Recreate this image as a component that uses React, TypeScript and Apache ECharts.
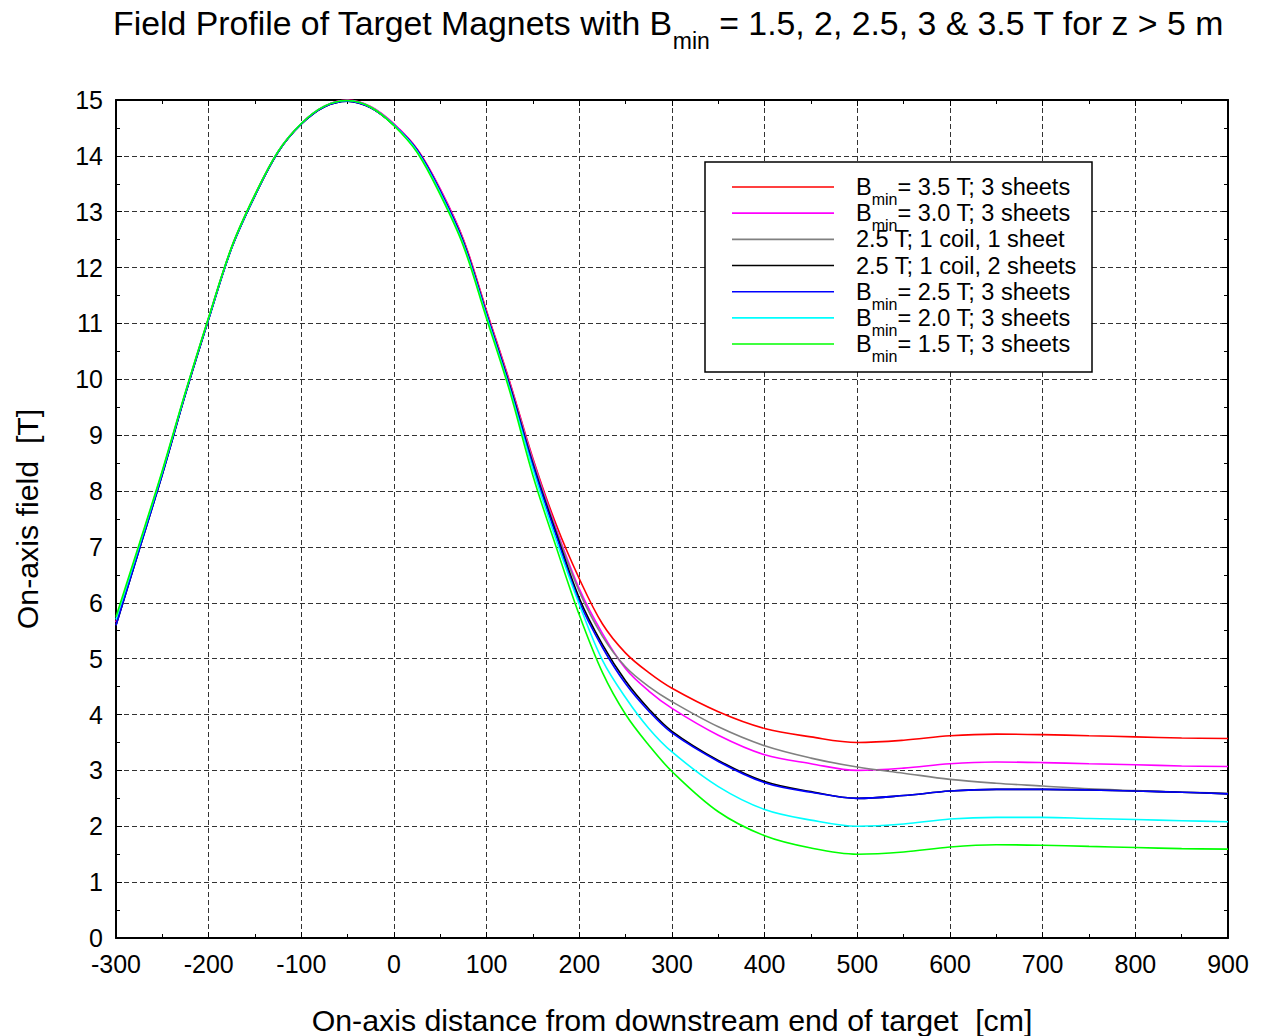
import React, { useEffect, useRef } from 'react';
import * as echarts from 'echarts';

// On-axis distance from downstream end of target [cm]
const distances = [-300, -275, -250, -225, -200, -175, -150, -125, -100, -75, -50, -25, 0, 25, 50, 75, 100, 125, 150, 175, 200, 225, 250, 275, 300, 350, 400, 450, 500, 550, 600, 650, 700, 750, 800, 850, 900];

// On-axis field [T]
const bmin35 = [5.65, 7.0, 8.33, 9.76, 11.1, 12.37, 13.3, 14.08, 14.58, 14.89, 15.0, 14.88, 14.57, 14.12, 13.4, 12.5, 11.22, 9.95, 8.58, 7.4, 6.43, 5.62, 5.1, 4.75, 4.47, 4.05, 3.75, 3.6, 3.5, 3.54, 3.62, 3.65, 3.64, 3.62, 3.6, 3.58, 3.57];
const bmin30 = [5.65, 7.0, 8.33, 9.76, 11.1, 12.37, 13.3, 14.08, 14.58, 14.89, 15.0, 14.88, 14.57, 14.12, 13.4, 12.49, 11.2, 9.93, 8.55, 7.33, 6.25, 5.45, 4.82, 4.42, 4.11, 3.63, 3.28, 3.12, 3.0, 3.04, 3.12, 3.15, 3.14, 3.12, 3.1, 3.08, 3.07];
const oneCoilOneSheet = [5.6, 6.95, 8.3, 9.74, 11.08, 12.36, 13.29, 14.07, 14.57, 14.88, 14.98, 14.86, 14.55, 14.1, 13.37, 12.46, 11.17, 9.9, 8.52, 7.3, 6.2, 5.4, 4.85, 4.5, 4.23, 3.78, 3.44, 3.22, 3.06, 2.95, 2.84, 2.77, 2.72, 2.67, 2.64, 2.61, 2.59];
const oneCoilTwoSheets = [5.6, 6.95, 8.3, 9.74, 11.08, 12.36, 13.29, 14.07, 14.57, 14.88, 14.98, 14.86, 14.55, 14.1, 13.36, 12.45, 11.16, 9.88, 8.48, 7.25, 6.08, 5.25, 4.6, 4.1, 3.7, 3.18, 2.8, 2.62, 2.5, 2.55, 2.63, 2.66, 2.66, 2.65, 2.63, 2.61, 2.58];
const bmin25 = [5.6, 6.95, 8.3, 9.74, 11.08, 12.36, 13.29, 14.07, 14.57, 14.88, 14.98, 14.86, 14.55, 14.1, 13.36, 12.44, 11.15, 9.86, 8.45, 7.2, 6.02, 5.2, 4.55, 4.06, 3.67, 3.16, 2.78, 2.61, 2.5, 2.55, 2.63, 2.66, 2.66, 2.65, 2.63, 2.61, 2.58];
const bmin20 = [5.7, 7.02, 8.35, 9.77, 11.1, 12.37, 13.3, 14.08, 14.58, 14.89, 14.99, 14.87, 14.55, 14.08, 13.33, 12.41, 11.12, 9.82, 8.38, 7.12, 5.97, 4.97, 4.3, 3.75, 3.33, 2.71, 2.3, 2.11, 2.0, 2.04, 2.13, 2.16, 2.16, 2.14, 2.12, 2.1, 2.08];
const bmin15 = [5.75, 7.05, 8.37, 9.78, 11.11, 12.38, 13.31, 14.08, 14.58, 14.89, 14.99, 14.87, 14.54, 14.06, 13.3, 12.38, 11.08, 9.78, 8.27, 7.0, 5.78, 4.75, 4.0, 3.45, 2.98, 2.26, 1.83, 1.61, 1.5, 1.54, 1.63, 1.67, 1.66, 1.64, 1.62, 1.6, 1.59];

const seriesNames = ['Bmin = 3.5 T; 3 sheets', 'Bmin = 3.0 T; 3 sheets', '2.5 T; 1 coil, 1 sheet', '2.5 T; 1 coil, 2 sheets', 'Bmin = 2.5 T; 3 sheets', 'Bmin = 2.0 T; 3 sheets', 'Bmin = 1.5 T; 3 sheets'];
// legend text pieces: [main, subscript, rest]
const legendParts: [string, string, string][] = [
  ['B', 'min', '= 3.5 T; 3 sheets'],
  ['B', 'min', '= 3.0 T; 3 sheets'],
  ['2.5 T; 1 coil, 1 sheet', '', ''],
  ['2.5 T; 1 coil, 2 sheets', '', ''],
  ['B', 'min', '= 2.5 T; 3 sheets'],
  ['B', 'min', '= 2.0 T; 3 sheets'],
  ['B', 'min', '= 1.5 T; 3 sheets'],
];
const seriesValues = [bmin35, bmin30, oneCoilOneSheet, oneCoilTwoSheets, bmin25, bmin20, bmin15];
const seriesColors = ['#ff0000', '#ff00ff', '#808080', '#000000', '#0000ff', '#00ffff', '#00ff00'];

const FONT = 'Liberation Sans, Arial, sans-serif';

function measure(text: string, size: number): number {
  const c = document.createElement('canvas').getContext('2d');
  if (!c) return text.length * size * 0.55;
  c.font = `${size}px ${FONT}`;
  return c.measureText(text).width;
}

export default function App() {
  const ref = useRef<HTMLDivElement>(null);
  useEffect(() => {
    document.body.style.margin = '0';
    const chart = echarts.init(ref.current!, null, { renderer: 'svg' });
    const axisLine = { show: true, onZero: false, lineStyle: { color: '#000', width: 2 } };
    const gridLine = { show: true, lineStyle: { color: '#333', width: 1, type: [5, 3] as any } };
    const tick = { show: true, inside: true, length: 6, lineStyle: { color: '#000' } };
    const minor = { show: true, splitNumber: 2, length: 4, lineStyle: { color: '#000' } };

    // legend box built from graphic elements
    const LX = 705, LY = 162, LW = 387, LH = 210;
    const row0 = 187, rowStep = 26.17;
    const mainSize = 23.5, subSize = 16;
    const Z = 100;
    const legendChildren: any[] = [
      { type: 'rect', z: Z, shape: { x: LX, y: LY, width: LW, height: LH }, style: { fill: '#fff', stroke: '#000', lineWidth: 1.5 } },
    ];
    legendParts.forEach((p, i) => {
      const y = row0 + i * rowStep;
      legendChildren.push({ type: 'line', z: Z + 1, shape: { x1: 732, y1: y, x2: 834, y2: y }, style: { stroke: seriesColors[i], lineWidth: 1.6 } });
      let x = 856;
      legendChildren.push({ type: 'text', z: Z + 1, x, y, style: { text: p[0], fontSize: mainSize, fontFamily: FONT, fill: '#000', align: 'left', verticalAlign: 'middle' } });
      if (p[1]) {
        x += measure(p[0], mainSize);
        legendChildren.push({ type: 'text', z: Z + 1, x, y: y + 12.6, style: { text: p[1], fontSize: subSize, fontFamily: FONT, fill: '#000', align: 'left', verticalAlign: 'middle' } });
        x += measure(p[1], subSize);
        legendChildren.push({ type: 'text', z: Z + 1, x, y, style: { text: p[2], fontSize: mainSize, fontFamily: FONT, fill: '#000', align: 'left', verticalAlign: 'middle' } });
      }
    });

    const option: any = {
      animation: false,
      backgroundColor: '#fff',
      textStyle: { fontFamily: FONT },
      title: {
        text: '{a|Field Profile of Target Magnets with B}{s|min}{a| = 1.5, 2, 2.5, 3 & 3.5 T for z > 5 m}',
        left: 113,
        top: 6,
        padding: 0,
        textStyle: {
          fontFamily: FONT,
          fontWeight: 'normal',
          color: '#000',
          rich: {
            a: { fontSize: 33.8, lineHeight: 33.8, verticalAlign: 'top', color: '#000', fontFamily: FONT },
            s: { fontSize: 23, lineHeight: 23, padding: [23, 0, 0, 0], verticalAlign: 'top', color: '#000', fontFamily: FONT },
          },
        },
      },
      graphic: { elements: [{ type: 'group', z: Z, children: legendChildren }] },
      grid: { left: 116, right: 34, top: 100, bottom: 98, containLabel: false, outerBoundsMode: 'none' },
      xAxis: [
        {
          type: 'value', min: -300, max: 900, interval: 100, position: 'bottom',
          axisLine, axisTick: tick, minorTick: minor,
          splitLine: gridLine,
          axisLabel: { fontSize: 25, lineHeight: 25, color: '#000', margin: 13, fontFamily: FONT },
          name: 'On-axis distance from downstream end of target  [cm]',
          nameLocation: 'middle',
          nameGap: 67,
          nameTextStyle: { fontSize: 30.3, color: '#000', fontFamily: FONT },
        },
        {
          type: 'value', min: -300, max: 900, interval: 100, position: 'top',
          axisLine, axisTick: tick, minorTick: minor,
          splitLine: { show: false },
          axisLabel: { show: false },
        },
      ],
      yAxis: [
        {
          type: 'value', min: 0, max: 15, interval: 1, position: 'left',
          axisLine, axisTick: tick, minorTick: minor,
          splitLine: gridLine,
          axisLabel: { fontSize: 25, color: '#000', margin: 13, fontFamily: FONT },
          name: 'On-axis field  [T]',
          nameLocation: 'middle',
          nameGap: 74,
          nameRotate: 90,
          nameTextStyle: { fontSize: 30.3, color: '#000', fontFamily: FONT },
        },
        {
          type: 'value', min: 0, max: 15, interval: 1, position: 'right',
          axisLine, axisTick: tick, minorTick: minor,
          splitLine: { show: false },
          axisLabel: { show: false },
        },
      ],
      series: seriesNames.map((name, i) => ({
        name,
        type: 'line',
        xAxisIndex: 0,
        yAxisIndex: 0,
        symbol: 'none',
        smooth: 0.35,
        color: seriesColors[i],
        lineStyle: { color: seriesColors[i], width: 1.6 },
        data: distances.map((d, j) => [d, seriesValues[i][j]]),
        z: 2 + i,
      })),
    };
    chart.setOption(option);
    return () => chart.dispose();
  }, []);
  return <div ref={ref} style={{ width: 1262, height: 1036 }} />;
}
